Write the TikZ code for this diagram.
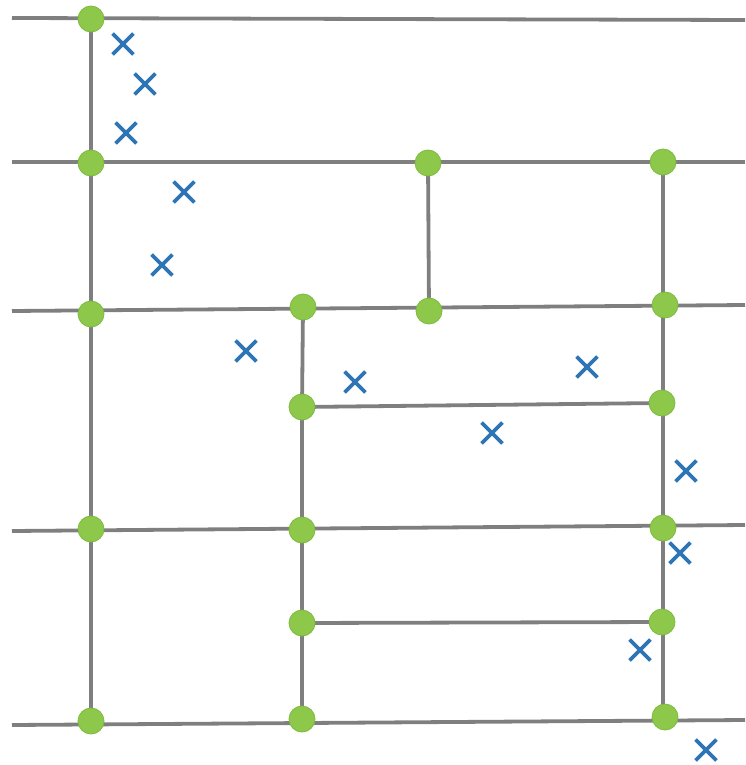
\documentclass[tikz,border=0pt]{standalone}
\usetikzlibrary{shapes.misc}
\definecolor{wire}{HTML}{7F7F7F}
\definecolor{dotfill}{HTML}{8DC84B}
\definecolor{dotedge}{HTML}{7DBA3E}
\definecolor{xblue}{HTML}{2E75B6}
\tikzset{
  wireline/.style={draw=wire, line width=3.8pt},
  dot/.style={circle, fill=dotfill, draw=dotedge, line width=0.8pt, minimum size=26pt, inner sep=0pt},
  xmark/.style={cross out, draw=xblue, line width=3.8pt, minimum size=17pt, inner sep=0pt}
}
\begin{document}
\begin{tikzpicture}[x=1pt, y=-1pt]
\useasboundingbox (0,0) rectangle (745,765);
% free ends of horizontal lines
\coordinate (l1) at (12,18);   \coordinate (r1) at (745,20);
\coordinate (l2) at (12,162);  \coordinate (r2) at (745,162);
\coordinate (l3) at (12,311);  \coordinate (r3) at (745,305);
\coordinate (l5) at (12,531);  \coordinate (r5) at (745,525);
\coordinate (l7) at (12,725);  \coordinate (r7) at (745,720);
% node positions
\coordinate (pa1) at (91,19);
\coordinate (pa2) at (91,163);
\coordinate (pa3) at (91,314);
\coordinate (pa5) at (91,529);
\coordinate (pa7) at (91,721);
\coordinate (pb2) at (428,163);
\coordinate (pb3) at (429,311);
\coordinate (pc3) at (303,307);
\coordinate (pc4) at (302,407);
\coordinate (pc5) at (302,530);
\coordinate (pc6) at (302,623);
\coordinate (pc7) at (302,719);
\coordinate (pd2) at (663,162);
\coordinate (pd3) at (665,305);
\coordinate (pd4) at (662,403);
\coordinate (pd5) at (663,528);
\coordinate (pd6) at (662,622);
\coordinate (pd7) at (665,717);
\coordinate (pdb) at (663,717);
% wires
\draw[wireline] (l1) -- (r1);
\draw[wireline] (l2) -- (r2);
\draw[wireline] (l3) -- (r3);
\draw[wireline] (l5) -- (r5);
\draw[wireline] (l7) -- (r7);
\draw[wireline] (pc4) -- (pd4);
\draw[wireline] (pc6) -- (pd6);
\draw[wireline] (pa1) -- (pa2) -- (pa3) -- (pa5) -- (pa7);
\draw[wireline] (pb2) -- (pb3);
\draw[wireline] (pc3) -- (pc4) -- (pc5) -- (pc6) -- (pc7);
\draw[wireline] (pd2) -- (pdb);
% dots
\foreach \p in {pa1,pa2,pa3,pa5,pa7,pb2,pb3,pc3,pc4,pc5,pc6,pc7,pd2,pd3,pd4,pd5,pd6,pd7}
  \node[dot] (n\p) at (\p) {};
% crosses
\node[xmark] (x1) at (123,44) {};
\node[xmark] (x2) at (145,84) {};
\node[xmark] (x3) at (126,133) {};
\node[xmark] (x4) at (184,192) {};
\node[xmark] (x5) at (162,265) {};
\node[xmark] (x6) at (246,351) {};
\node[xmark] (x7) at (355,382) {};
\node[xmark] (x8) at (587,367) {};
\node[xmark] (x9) at (492,433) {};
\node[xmark] (x10) at (686,471) {};
\node[xmark] (x11) at (680,553) {};
\node[xmark] (x12) at (640,650) {};
\node[xmark] (x13) at (706,750) {};
\end{tikzpicture}
\end{document}
